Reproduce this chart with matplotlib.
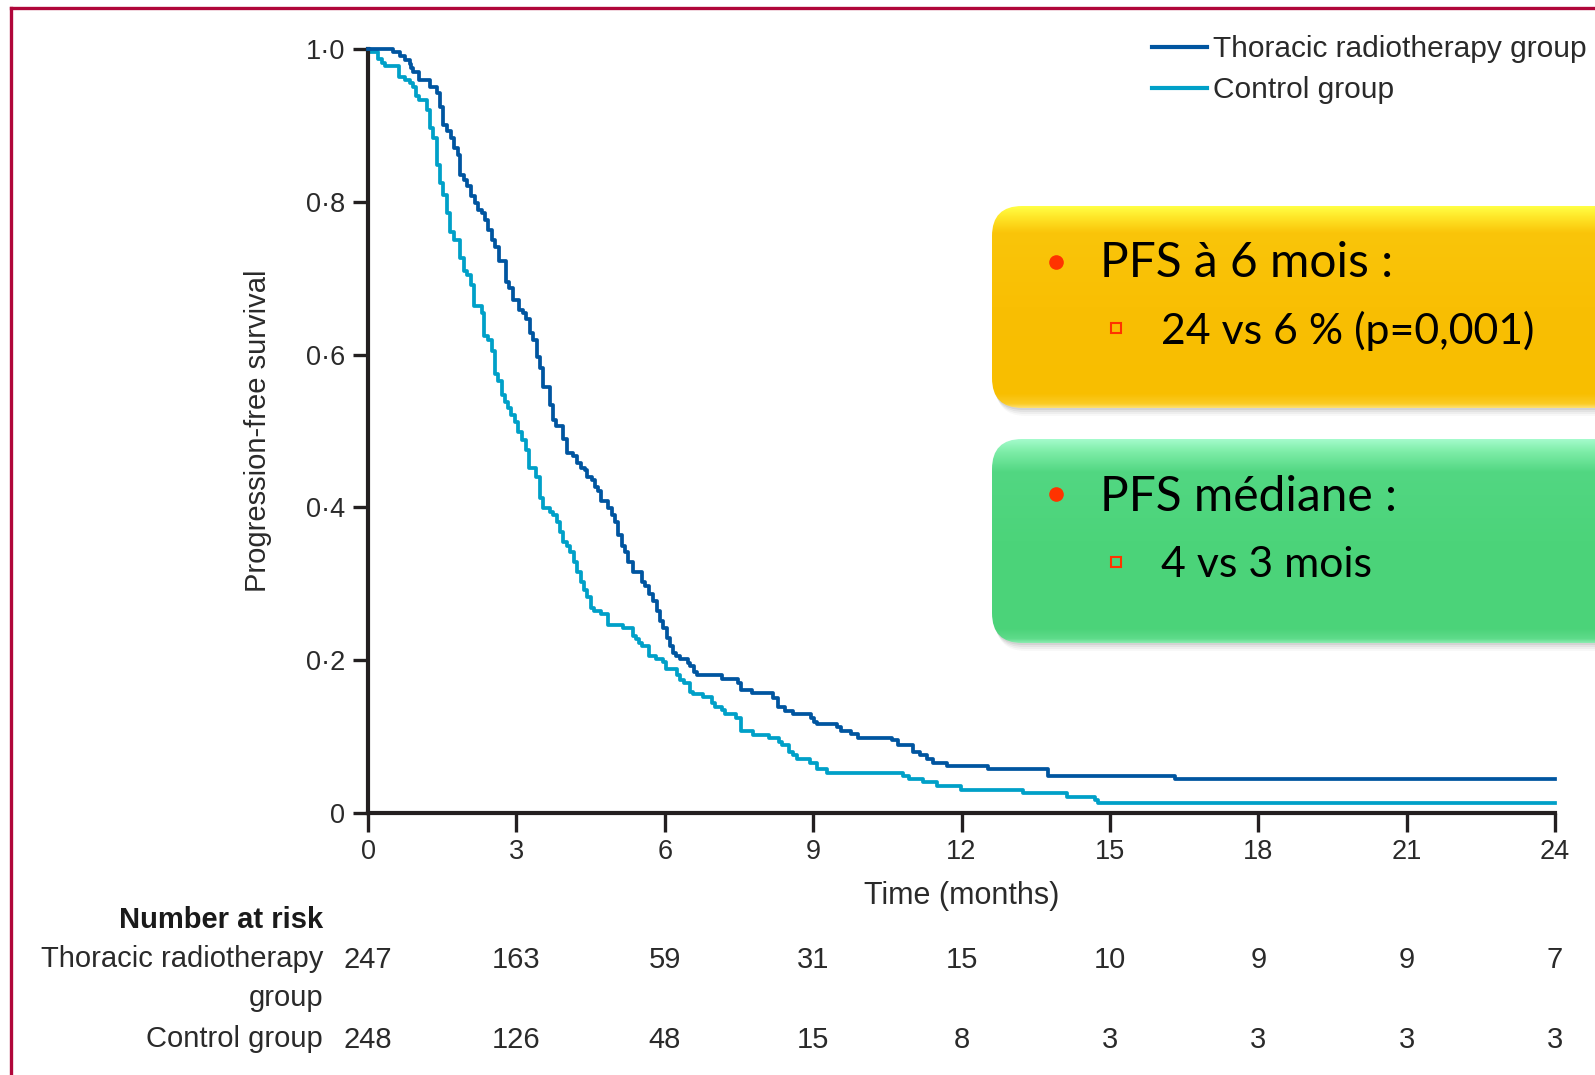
import numpy as np
import matplotlib
matplotlib.use('Agg')
import matplotlib.pyplot as plt
from matplotlib.patches import FancyBboxPatch
from matplotlib.colors import to_rgb

# ---------------- data ----------------
series_labels = ['Thoracic radiotherapy group', 'Control group']

months_trt = [0, 0.50, 0.65, 0.75, 0.84, 0.87, 0.90, 1.04, 1.25, 1.39, 1.46, 1.52, 1.60, 1.67,
              1.74, 1.81, 1.87, 1.94, 2.01, 2.08, 2.16, 2.23, 2.30, 2.37, 2.43, 2.50, 2.57,
              2.64, 2.79, 2.86, 2.93, 3.06, 3.13, 3.19, 3.28, 3.34, 3.41, 3.48, 3.545, 3.67,
              3.75, 3.81, 3.95, 4.02, 4.15, 4.22, 4.31, 4.39, 4.43, 4.52, 4.59, 4.66, 4.72,
              4.86, 4.93, 4.99, 5.06, 5.13, 5.20, 5.26, 5.35, 5.53, 5.60, 5.69, 5.77, 5.84,
              5.90, 5.97, 6.04, 6.10, 6.17, 6.23, 6.31, 6.46, 6.52, 6.59, 6.66, 7.15, 7.49,
              7.55, 7.76, 8.18, 8.29, 8.43, 8.60, 8.95, 9.02, 9.08, 9.49, 9.56, 9.76, 9.91,
              10.59, 10.72, 11.01, 11.16, 11.30, 11.43, 11.70, 12.54, 13.74, 16.32, 24]
pfs_trt = [1.0, 0.996, 0.991, 0.986, 0.980, 0.975, 0.970, 0.960, 0.950, 0.942, 0.924, 0.901, 0.893, 0.884,
           0.870, 0.861, 0.835, 0.829, 0.821, 0.807, 0.798, 0.789, 0.785, 0.776, 0.763, 0.750, 0.741,
           0.723, 0.695, 0.687, 0.672, 0.658, 0.654, 0.646, 0.628, 0.619, 0.597, 0.583, 0.557, 0.534,
           0.515, 0.507, 0.489, 0.471, 0.467, 0.458, 0.452, 0.449, 0.440, 0.436, 0.427, 0.421, 0.409,
           0.399, 0.390, 0.381, 0.364, 0.350, 0.341, 0.328, 0.316, 0.302, 0.297, 0.287, 0.277, 0.265,
           0.251, 0.242, 0.229, 0.218, 0.210, 0.206, 0.201, 0.196, 0.193, 0.184, 0.180, 0.175, 0.170,
           0.161, 0.157, 0.150, 0.139, 0.134, 0.130, 0.125, 0.119, 0.116, 0.112, 0.107, 0.103, 0.098,
           0.095, 0.089, 0.080, 0.076, 0.071, 0.066, 0.062, 0.0576, 0.049, 0.0445, 0.0445]

months_ctl = [0, 0.05, 0.21, 0.28, 0.34, 0.63, 0.75, 0.84, 0.90, 0.97, 1.04, 1.19, 1.25, 1.32,
              1.39, 1.46, 1.52, 1.59, 1.66, 1.74, 1.87, 1.94, 2.01, 2.08, 2.14, 2.30, 2.35, 2.43,
              2.50, 2.57, 2.63, 2.70, 2.77, 2.84, 2.90, 2.97, 3.04, 3.11, 3.19, 3.26, 3.40, 3.47,
              3.53, 3.67, 3.75, 3.82, 3.88, 3.95, 4.02, 4.08, 4.16, 4.23, 4.30, 4.37, 4.43, 4.50,
              4.57, 4.72, 4.86, 5.15, 5.35, 5.42, 5.48, 5.55, 5.69, 5.82, 5.96, 6.02, 6.24, 6.31,
              6.38, 6.51, 6.58, 6.77, 6.95, 7.02, 7.15, 7.22, 7.44, 7.55, 7.78, 8.11, 8.31, 8.38,
              8.52, 8.60, 8.67, 8.94, 9.08, 9.29, 10.82, 10.94, 11.23, 11.50, 11.99, 13.24, 14.13,
              14.70, 14.77, 24]
pfs_ctl = [1.0, 0.9965, 0.9865, 0.982, 0.978, 0.964, 0.959, 0.955, 0.950, 0.938, 0.933, 0.920, 0.896, 0.884,
           0.848, 0.824, 0.809, 0.785, 0.761, 0.750, 0.726, 0.709, 0.704, 0.691, 0.663, 0.655, 0.624, 0.619,
           0.605, 0.575, 0.566, 0.547, 0.538, 0.530, 0.521, 0.512, 0.499, 0.488, 0.475, 0.452, 0.440, 0.412,
           0.399, 0.394, 0.390, 0.381, 0.368, 0.355, 0.349, 0.342, 0.328, 0.315, 0.302, 0.292, 0.283, 0.268,
           0.265, 0.260, 0.246, 0.242, 0.232, 0.228, 0.223, 0.219, 0.206, 0.201, 0.197, 0.188, 0.181, 0.174,
           0.170, 0.159, 0.156, 0.152, 0.144, 0.139, 0.135, 0.130, 0.125, 0.107, 0.102, 0.098, 0.093, 0.089,
           0.080, 0.076, 0.071, 0.066, 0.058, 0.053, 0.049, 0.045, 0.040, 0.0354, 0.030, 0.026, 0.0215,
           0.017, 0.0135, 0.0135]

xticks = [0, 3, 6, 9, 12, 15, 18, 21, 24]
yticks = [0, 0.2, 0.4, 0.6, 0.8, 1.0]
ytick_labels = ['0', '0·2', '0·4', '0·6', '0·8', '1·0']

risk_title = 'Number at risk'
risk_row_labels = ['Thoracic radiotherapy\ngroup', 'Control group']
risk_trt = [247, 163, 59, 31, 15, 10, 9, 9, 7]
risk_ctl = [248, 126, 48, 15, 8, 3, 3, 3, 3]

box1_title = 'PFS à 6 mois :'
box1_detail = '24 vs 6 % (p=0,001)'
box2_title = 'PFS médiane :'
box2_detail = '4 vs 3 mois'

# ---------------- styling ----------------
W, H = 1595, 1075
C_TRT = '#0055A0'
C_CTL = '#00A0C8'
C_AX = '#231F20'
C_TXT = '#2A2A2A'
FONT = 'Liberation Sans'

fig = plt.figure(figsize=(W / 100, H / 100), dpi=100)
fig.patch.set_facecolor('white')

L, R, T, B = 368, 1555, 49, 813
ax = fig.add_axes([L / W, 1 - B / H, (R - L) / W, (B - T) / H])
ax.set_facecolor('none')

l1, = ax.step(months_trt, pfs_trt, where='post', color=C_TRT, lw=2.7, clip_on=False, zorder=3)
l2, = ax.step(months_ctl, pfs_ctl, where='post', color=C_CTL, lw=2.7, clip_on=False, zorder=2)

ax.set_xlim(0, 24)
ax.set_ylim(0, 1)
for s in ['top', 'right']:
    ax.spines[s].set_visible(False)
for s in ['left', 'bottom']:
    ax.spines[s].set_linewidth(3)
    ax.spines[s].set_color(C_AX)

ax.set_xticks(xticks)
ax.set_xticklabels([str(v) for v in xticks])
ax.set_yticks(yticks)
ax.set_yticklabels(ytick_labels)
ax.tick_params(axis='x', length=13.5, width=2.4, pad=5, color=C_AX, labelsize=19.5, labelcolor=C_TXT)
ax.tick_params(axis='y', length=11, width=2.4, pad=5.5, color=C_AX, labelsize=19.5, labelcolor=C_TXT)
for lab in ax.get_xticklabels() + ax.get_yticklabels():
    lab.set_family(FONT)

ax.set_xlabel('Time (months)', family=FONT, fontsize=22, color=C_TXT, va='top')
ax.xaxis.set_label_coords(0.5, (B - 881) / (B - T))
ax.set_ylabel('Progression-free survival', family=FONT, fontsize=21, color=C_TXT, va='center')
ax.yaxis.set_label_coords((258 - L) / (R - L), 0.5)

# legend
leg = fig.legend(handles=[l1, l2], labels=series_labels, loc='upper left',
                 bbox_to_anchor=(1152 / W, 1 - 35 / H), frameon=False, borderpad=0,
                 borderaxespad=0, handlelength=1.84, handletextpad=0.2, labelspacing=0.44,
                 prop={'family': FONT, 'size': 21.5})
for t in leg.get_texts():
    t.set_color(C_TXT)
for hl in leg.get_lines():
    hl.set_linewidth(3)

# number at risk table
xt = ax.get_xaxis_transform()
y_trt = (B - 968) / (B - T)
y_ctl = (B - 1048) / (B - T)
for xv, n in zip(xticks, risk_trt):
    ax.text(xv, y_trt, str(n), transform=xt, ha='center', va='baseline',
            family=FONT, fontsize=21, color=C_TXT, clip_on=False)
for xv, n in zip(xticks, risk_ctl):
    ax.text(xv, y_ctl, str(n), transform=xt, ha='center', va='baseline',
            family=FONT, fontsize=21, color=C_TXT, clip_on=False)
fig.text(323 / W, 1 - 928 / H, risk_title, ha='right', va='baseline', family=FONT,
         fontsize=21, fontweight='bold', color='#1A1A1A')
first, second = risk_row_labels[0].split('\n')
fig.text(323 / W, 1 - 967 / H, first, ha='right', va='baseline', family=FONT, fontsize=21, color=C_TXT)
fig.text(323 / W, 1 - 1006 / H, second, ha='right', va='baseline', family=FONT, fontsize=21, color=C_TXT)
fig.text(323 / W, 1 - 1047 / H, risk_row_labels[1], ha='right', va='baseline', family=FONT, fontsize=21, color=C_TXT)

# ---------------- overlay: frame and callout boxes ----------------
ov = fig.add_axes([0, 0, 1, 1], zorder=5)
ov.patch.set_alpha(0)
ov.axis('off')

BS = 'round,pad=0,rounding_size=30'


def gradient_box(x0, y0, x1, y1, stops):
    for dx, dy, a in [(1, 2, 0.10), (2, 4, 0.08), (3, 6, 0.06), (4, 8, 0.04)]:
        ov.add_patch(FancyBboxPatch((x0 + dx, y0 + dy), x1 - x0, y1 - y0, boxstyle=BS,
                                    fc='0.35', ec='none', alpha=a, zorder=1))
    p = FancyBboxPatch((x0, y0), x1 - x0, y1 - y0, boxstyle=BS, fc='none', ec='none', zorder=2)
    ov.add_patch(p)
    pos = np.linspace(0, 1, 300)
    fr = [s[0] for s in stops]
    cols = np.array([to_rgb(s[1]) for s in stops])
    arr = np.stack([np.interp(pos, fr, cols[:, k]) for k in range(3)], axis=-1)[:, None, :]
    im = ov.imshow(arr, extent=[x0, x1, y1, y0], aspect='auto', interpolation='bilinear', zorder=2)
    im.set_clip_path(p)


gradient_box(992, 206, 1660, 408,
             [(0, '#FFFF45'), (0.05, '#FFE82A'), (0.13, '#FAC50A'), (0.5, '#F9BF03'),
              (0.93, '#F8BE00'), (0.98, '#FBCB25'), (1.0, '#FFE070')])
gradient_box(992, 439, 1660, 643,
             [(0, '#A4FBCC'), (0.06, '#7EEDA8'), (0.16, '#52D782'), (0.5, '#4CD47A'),
              (0.93, '#4BD379'), (0.98, '#5EDB8A'), (1.0, '#8AEBB0')])

TXT_FONT = ['Lato', 'DejaVu Sans']
ov.text(1100, 277, box1_title, ha='left', va='baseline', family=TXT_FONT, fontsize=34.5, color='black', zorder=4)
ov.text(1161, 344, box1_detail, ha='left', va='baseline', family=TXT_FONT, fontsize=30.8, color='black', zorder=4)
ov.text(1100, 511, box2_title, ha='left', va='baseline', family=TXT_FONT, fontsize=34.5, color='black', zorder=4)
ov.text(1161, 577, box2_detail, ha='left', va='baseline', family=TXT_FONT, fontsize=30.8, color='black', zorder=4)
for yb in (262, 494):
    ov.plot([1056], [yb], 'o', ms=9.5, color='#FF3300', zorder=4)
for ys in (328, 562):
    ov.plot([1116], [ys], 's', ms=7, mfc='none', mec='#FF3300', mew=1.5, zorder=4)

# crimson frame (top and left edges visible)
ov.plot([11, 11], [8, H + 10], color='#B0063A', lw=2.4, solid_capstyle='projecting', zorder=6)
ov.plot([11, W + 10], [8, 8], color='#B0063A', lw=2.4, solid_capstyle='projecting', zorder=6)

ov.set_xlim(0, W)
ov.set_ylim(H, 0)

fig.savefig('out.png', dpi=100)
